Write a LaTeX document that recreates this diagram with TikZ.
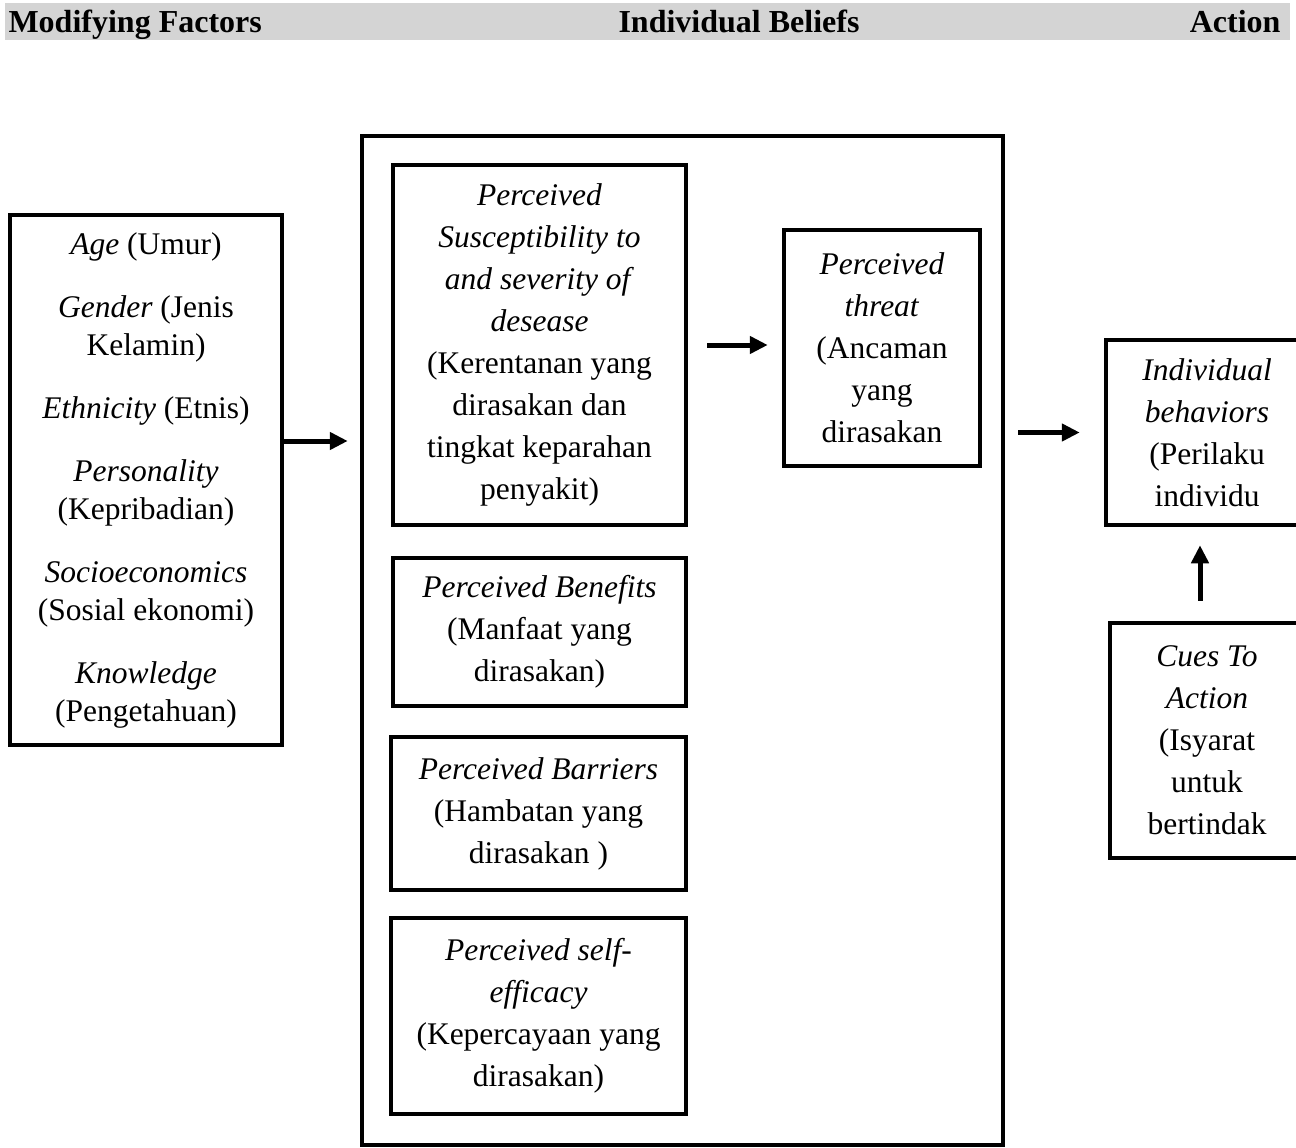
\documentclass[tikz,border=0pt]{standalone}
\usepackage{fontspec}
\setmainfont{Liberation Serif}
\usetikzlibrary{arrows.meta}
\definecolor{band}{gray}{0.83}

\begin{document}
\begin{tikzpicture}[x=1pt, y=-1pt]
        \tikzstyle{box} = [draw, line width=4.5pt, align=center, inner sep=0pt, font=\fontsize{31.5}{42}\selectfont];
        \tikzstyle{head} = [font=\fontsize{32}{38}\selectfont\bfseries, anchor=base west];
        \tikzstyle{arr} = [line width=5pt, -{Triangle[length=18pt,width=17pt]}];

        \useasboundingbox (0,0) rectangle (1296,1148);
        \fill[band] (5,3) rectangle (1290,40);
        \node [head] (mf) at (5,33) {Modifying Factors};
        \node [head] (ib) at (615,33) {Individual Beliefs};
        \node [head, anchor=base east] (ac) at (1284,33) {Action};

        \node [box, minimum width=272, minimum height=530, font=\fontsize{31.5}{38}\selectfont] (mod) at (146,480) {
            \textit{Age} (Umur)\\[25pt]
            \textit{Gender} (Jenis\\ Kelamin)\\[25pt]
            \textit{Ethnicity} (Etnis)\\[25pt]
            \textit{Personality}\\ (Kepribadian)\\[25pt]
            \textit{Socioeconomics}\\ (Sosial ekonomi)\\[25pt]
            \textit{Knowledge}\\ (Pengetahuan)
        };

        \node [box, minimum width=641, minimum height=1009] (beliefs) at (682.5,640.5) {};
        \node [box, minimum width=293, minimum height=360] (sus) at (539.5,345) {
            \textit{Perceived}\\ \textit{Susceptibility to}\\ \textit{and severity of}\\ \textit{desease}\\
            (Kerentanan yang\\ dirasakan dan\\ tingkat keparahan\\ penyakit)
        };
        \node [box, minimum width=196, minimum height=236] (threat) at (882,348) {
            \textit{Perceived}\\ \textit{threat}\\ (Ancaman\\ yang\\ dirasakan
        };
        \node [box, minimum width=293, minimum height=148] (ben) at (539.5,632) {
            \textit{Perceived Benefits}\\ (Manfaat yang\\ dirasakan)
        };
        \node [box, minimum width=295, minimum height=153] (bar) at (538.5,813.5) {
            \textit{Perceived Barriers}\\ (Hambatan yang\\ dirasakan )
        };
        \node [box, minimum width=295, minimum height=196] (eff) at (538.5,1016) {
            \textit{Perceived self-}\\ \textit{efficacy}\\ (Kepercayaan yang\\ dirasakan)
        };

        \node [box, minimum width=202, minimum height=185] (ind) at (1207,432.5) {
            \textit{Individual}\\ \textit{behaviors}\\ (Perilaku\\ individu
        };
        \node [box, minimum width=194, minimum height=235] (cues) at (1207,740.5) {
            \textit{Cues To}\\ \textit{Action}\\ (Isyarat\\ untuk\\ bertindak
        };

        \draw [arr, shorten >=12pt] ([yshift=39pt]mod.east) -- ([yshift=39pt]mod.east -| beliefs.west);
        \draw [arr, shorten <=19pt, shorten >=14pt] (sus.east) -- (sus.east -| threat.west);
        \draw [arr, shorten <=13pt, shorten >=24pt] (beliefs.east |- ind.west) -- (ind.west);
        \draw [arr, shorten <=20pt, shorten >=18pt] ([xshift=-7pt]cues.north) -- ([xshift=-7pt]cues.north |- ind.south);
\end{tikzpicture}
\end{document}
